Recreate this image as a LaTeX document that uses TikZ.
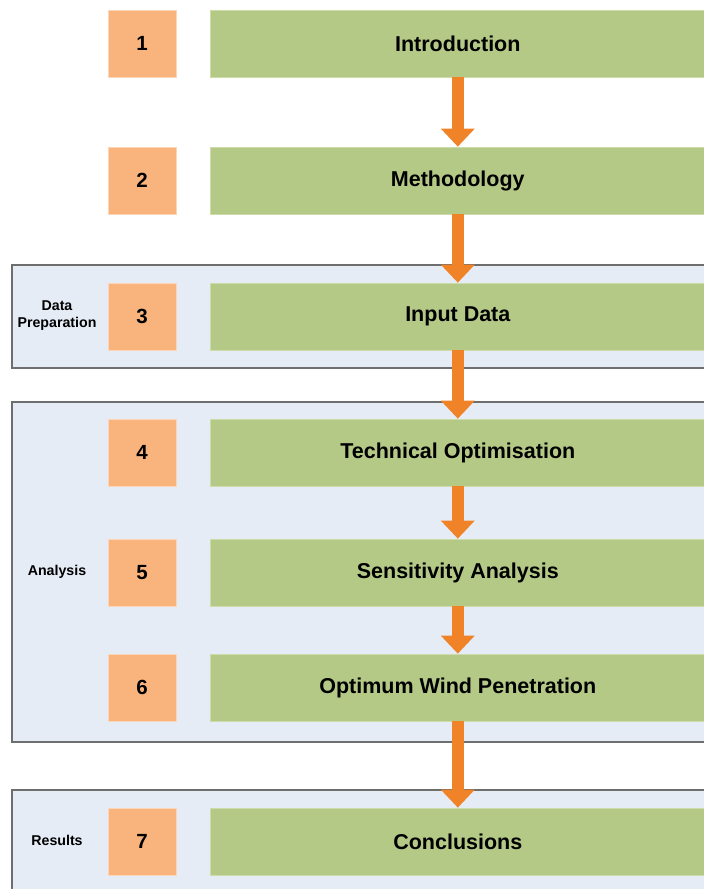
\documentclass[tikz,border=0pt]{standalone}
\usepackage{fontspec}
\setmainfont{Liberation Sans}
\usepackage{xcolor}
\usepackage{tikz}
\usetikzlibrary{arrows.meta,positioning}
\definecolor{numorange}{RGB}{249,180,125}
\definecolor{numedge}{RGB}{252,214,184}
\definecolor{stepgreen}{RGB}{181,201,135}
\definecolor{stepedge}{RGB}{205,220,170}
\definecolor{groupblue}{RGB}{230,236,246}
\definecolor{groupedge}{RGB}{110,110,110}
\definecolor{arroworange}{RGB}{240,130,40}
\tikzset{
  numbox/.style={rectangle,fill=numorange,draw=numedge,line width=.8pt,inner sep=0pt,
    minimum width=68pt,minimum height=67pt,font=\fontsize{20.5}{24}\selectfont\bfseries},
  stepbox/.style={rectangle,fill=stepgreen,draw=stepedge,line width=.8pt,inner sep=0pt,
    minimum width=494pt,minimum height=67pt,font=\fontsize{21.5}{26}\selectfont\bfseries},
  grouplabel/.style={align=center,font=\fontsize{14.2}{17}\selectfont\bfseries},
  groupbox/.style={fill=groupblue,draw=groupedge,line width=1.5pt},
  flowarrow/.style={-{Triangle[length=18pt,width=34pt,line width=0pt]},line width=12pt,draw=arroworange}
}
\begin{document}
\begin{tikzpicture}[x=1pt,y=-1pt,node distance=34pt]
  \useasboundingbox (0,0) rectangle (704,889);
  \clip (0,0) rectangle (704,889);
  % groups
  \draw[groupbox] (12,265) rectangle (720,368);
  \draw[groupbox] (12,402) rectangle (720,742);
  \draw[groupbox] (12,790) rectangle (720,910);
  \node[grouplabel] (g1) at (57,316) {Data\\Preparation};
  \node[grouplabel] (g2) at (57,572) {Analysis};
  \node[grouplabel] (g3) at (57,840) {Results};
  % chapters
  \node[numbox] (n1) at (142,43.5) {1};
  \node[numbox] (n2) at (142,180.5) {2};
  \node[numbox] (n3) at (142,316.5) {3};
  \node[numbox] (n4) at (142,452.5) {4};
  \node[numbox] (n5) at (142,572.5) {5};
  \node[numbox] (n6) at (142,687.5) {6};
  \node[numbox] (n7) at (142,841.5) {7};
  \node[stepbox,right=of n1] (s1) {Introduction};
  \node[stepbox,right=of n2] (s2) {Methodology};
  \node[stepbox,right=of n3] (s3) {Input Data};
  \node[stepbox,right=of n4] (s4) {Technical Optimisation};
  \node[stepbox,right=of n5] (s5) {Sensitivity Analysis};
  \node[stepbox,right=of n6] (s6) {Optimum Wind Penetration};
  \node[stepbox,right=of n7] (s7) {Conclusions};
  \draw[flowarrow] (s1)--(s2);
  \draw[flowarrow] (s2)--(s3);
  \draw[flowarrow] (s3)--(s4);
  \draw[flowarrow] (s4)--(s5);
  \draw[flowarrow] (s5)--(s6);
  \draw[flowarrow] (s6)--(s7);
\end{tikzpicture}
\end{document}
